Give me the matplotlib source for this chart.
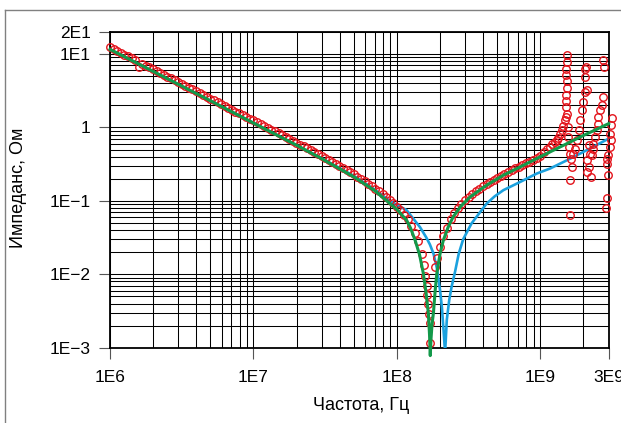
import matplotlib
matplotlib.use("Agg")
import matplotlib.pyplot as plt
from matplotlib.ticker import FixedLocator, FixedFormatter, LogLocator, NullFormatter
from matplotlib.lines import Line2D

plt.rcParams['font.family'] = ['Liberation Sans', 'DejaVu Sans']

# ---------------- data ----------------
x_ticks = [1e6, 1e7, 1e8, 1e9, 3e9]
x_tick_labels = ["1E6", "1E7", "1E8", "1E9", "3E9"]
y_ticks = [1e-3, 1e-2, 1e-1, 1, 1e1, 2e1]
y_tick_labels = ["1E\u22123", "1E\u22122", "1E\u22121", "1", "1E1", "2E1"]

x_label = "Частота, Гц"
y_label = "Импеданс, Ом"

# green model curve
green_freq = [1e6, 2e6, 5e6, 1e7, 2e7, 3e7, 5e7, 7e7, 1e8, 1.17e8, 1.25e8, 1.34e8,
              1.44e8, 1.53e8, 1.60e8, 1.66e8, 1.69e8, 1.71e8, 1.73e8, 1.76e8, 1.80e8,
              1.85e8, 1.90e8, 2.00e8, 2.11e8, 2.28e8, 2.47e8, 2.8e8, 3.24e8, 4.23e8,
              5.53e8, 7.23e8, 9.46e8, 1.17e9, 1.5e9, 1.9e9, 2.4e9, 3.0e9]
green_imp = [11.6, 5.81, 2.32, 1.15, 0.573, 0.375, 0.213, 0.138, 0.0766, 0.0546, 0.042,
             0.0292, 0.0185, 0.0103, 0.0055, 0.0029, 0.0015, 0.00078, 0.0013, 0.0021,
             0.0030, 0.0060, 0.0103, 0.019, 0.0292, 0.044, 0.0606, 0.085, 0.113, 0.164,
             0.224, 0.290, 0.378, 0.465, 0.59, 0.743, 0.92, 1.13]

# blue model curve
blue_freq = [1e6, 1e7, 3e7, 5e7, 7e7, 9e7, 1.17e8, 1.3e8, 1.45e8, 1.6e8, 1.7e8, 1.8e8,
             1.9e8, 2.0e8, 2.06e8, 2.11e8, 2.15e8, 2.17e8, 2.19e8, 2.23e8, 2.32e8,
             2.41e8, 2.55e8, 2.70e8, 2.90e8, 3.31e8, 3.80e8, 4.23e8, 4.8e8, 5.53e8,
             7.23e8, 9.46e8, 1.17e9, 1.5e9, 1.9e9, 2.4e9, 3.0e9]
blue_imp = [11.6, 1.16, 0.380, 0.220, 0.143, 0.099, 0.0748, 0.0575, 0.0439, 0.032,
            0.0255, 0.0192, 0.0122, 0.0061, 0.0036, 0.0019, 0.0011, 0.0009, 0.0012,
            0.0024, 0.0045, 0.0068, 0.0110, 0.0190, 0.030, 0.049, 0.070, 0.092, 0.115,
            0.140, 0.181, 0.236, 0.276, 0.35, 0.442, 0.56, 0.706]

# red measured points: mantissas of the sweep within one decade
red_mant = [1.000, 1.059, 1.122, 1.189, 1.259, 1.334, 1.413, 1.496, 1.585, 1.679,
            1.778, 1.884, 1.995, 2.113, 2.239, 2.371, 2.512, 2.661, 2.818, 2.985,
            3.162, 3.350, 3.548, 3.758, 3.981, 4.217, 4.467, 4.732, 5.012, 5.309,
            5.623, 5.957, 6.310, 6.683, 7.079, 7.499, 7.943, 8.414, 8.913, 9.441]
red_imp_1mhz = [12.4, 11.7, 11.05, 10.43, 9.85, 9.30, 8.78, 8.29, 6.6, 7.39,
                6.97, 6.58, 6.22, 5.87, 5.54, 5.23, 4.94, 4.66, 4.40, 4.15,
                3.92, 3.70, 3.49, 3.30, 3.11, 2.94, 2.78, 2.62, 2.47, 2.34,
                2.21, 2.08, 1.97, 1.86, 1.75, 1.65, 1.56, 1.47, 1.39, 1.31]
red_imp_10mhz = [1.25, 1.18, 1.11, 1.05, 0.991, 0.935, 0.882, 0.832, 0.785, 0.740,
                 0.698, 0.658, 0.621, 0.585, 0.551, 0.519, 0.489, 0.460, 0.433, 0.408,
                 0.383, 0.360, 0.338, 0.318, 0.298, 0.280, 0.262, 0.245, 0.229, 0.214,
                 0.199, 0.185, 0.172, 0.159, 0.147, 0.135, 0.124, 0.113, 0.103, 0.0926]
red_hf_freq = [1.000e8, 1.059e8, 1.122e8, 1.189e8, 1.259e8, 1.334e8, 1.413e8, 1.496e8,
               1.54e8, 1.58e8, 1.61e8, 1.63e8, 1.65e8, 1.67e8, 1.69e8, 1.70e8, 1.845e8,
               1.90e8, 2.00e8, 2.11e8, 2.24e8, 2.37e8, 2.51e8, 2.66e8, 2.82e8, 2.99e8,
               3.16e8, 3.35e8, 3.55e8, 3.76e8, 3.98e8, 4.22e8, 4.47e8, 4.73e8, 5.01e8,
               5.31e8, 5.62e8, 5.96e8, 6.31e8, 6.68e8, 7.08e8, 7.50e8, 7.94e8, 8.41e8,
               8.91e8, 9.44e8, 1.00e9, 1.06e9, 1.11e9, 1.16e9, 1.21e9, 1.26e9, 1.30e9,
               1.34e9, 1.38e9, 1.41e9, 1.45e9, 1.49e9, 1.51e9, 1.53e9]
red_hf_imp = [0.083, 0.074, 0.065, 0.056, 0.046, 0.037, 0.028, 0.019,
              0.0135, 0.0095, 0.0070, 0.0052, 0.0040, 0.0029, 0.0022, 0.00115, 0.0126,
              0.0165, 0.0235, 0.0330, 0.043, 0.056, 0.068, 0.080, 0.091, 0.103,
              0.114, 0.125, 0.136, 0.147, 0.158, 0.170, 0.182, 0.194, 0.207,
              0.220, 0.234, 0.248, 0.262, 0.277, 0.293, 0.309, 0.326, 0.344,
              0.363, 0.383, 0.41, 0.46, 0.515, 0.55, 0.59, 0.63, 0.668,
              0.73, 0.82, 0.914, 1.05, 1.25, 1.40, 1.54]
# scattered high-frequency measured points (resonances of the fixture)
red_scatter_freq = [1.50e9, 1.51e9, 1.50e9, 1.53e9, 1.53e9, 1.52e9, 1.51e9, 1.53e9, 1.53e9,
                    1.55e9, 1.57e9, 1.58e9, 1.60e9, 1.63e9, 1.66e9, 1.60e9, 1.60e9,
                    1.685e9, 1.75e9, 1.80e9, 1.85e9, 1.90e9, 1.95e9, 2.00e9, 2.05e9, 2.11e9,
                    2.05e9, 2.05e9, 2.09e9,
                    2.17e9, 2.23e9, 2.11e9, 2.17e9, 2.13e9, 2.25e9,
                    2.29e9, 2.32e9, 2.35e9, 2.41e9, 2.48e9, 2.54e9, 2.54e9, 2.61e9, 2.68e9,
                    2.73e9, 2.79e9, 2.73e9,
                    2.88e9, 2.91e9, 2.99e9, 2.91e9, 2.91e9, 2.99e9, 3.04e9, 3.10e9, 3.07e9,
                    3.10e9, 3.15e9]
red_scatter_imp = [1.90, 2.30, 2.74, 3.4, 4.25, 5.2, 6.31, 7.8, 9.59,
                   1.02, 0.75, 0.55, 0.441, 0.376, 0.29, 0.191, 0.0638,
                   0.441, 0.515, 0.668, 0.914, 1.25, 1.71, 2.22, 3.04, 3.27,
                   4.86, 6.31, 6.66,
                   0.572, 0.441, 0.357, 0.290, 0.248, 0.212,
                   0.418, 0.515, 0.602, 0.743, 0.914, 1.13, 1.39, 1.71, 2.00,
                   2.60, 6.66, 8.37,
                   0.081, 0.108, 0.224, 0.322, 0.376, 0.418, 0.543, 0.668, 0.824,
                   1.07, 1.36]

red_freq = ([m * 1e6 for m in red_mant] + [m * 1e7 for m in red_mant]
            + red_hf_freq + red_scatter_freq)
red_imp = red_imp_1mhz + red_imp_10mhz + red_hf_imp + red_scatter_imp

# ---------------- figure ----------------
W, H = 621, 423
fig = plt.figure(figsize=(W / 100, H / 100), dpi=100)
ax_l, ax_r, ax_t, ax_b = 110, 608.7, 32, 347.7
ax = fig.add_axes([ax_l / W, 1 - ax_b / H, (ax_r - ax_l) / W, (ax_b - ax_t) / H])
ax.set_xscale('log')
ax.set_yscale('log')
ax.set_xlim(1e6, 3e9)
ax.set_ylim(1e-3, 2e1)

ax.xaxis.set_major_locator(FixedLocator(x_ticks))
ax.xaxis.set_major_formatter(FixedFormatter(x_tick_labels))
ax.yaxis.set_major_locator(FixedLocator(y_ticks))
ax.yaxis.set_major_formatter(FixedFormatter(y_tick_labels))
ax.xaxis.set_minor_locator(LogLocator(base=10, subs=range(2, 10), numticks=50))
ax.yaxis.set_minor_locator(LogLocator(base=10, subs=range(2, 10), numticks=50))
ax.xaxis.set_minor_formatter(NullFormatter())
ax.yaxis.set_minor_formatter(NullFormatter())

ax.set_axisbelow(True)
ax.grid(True, which='both', color='black', linewidth=0.75)
ax.tick_params(which='major', direction='out', length=8, width=0.8,
               color='#555555', labelsize=12.5, labelcolor='black')
ax.tick_params(axis='x', which='major', pad=8)
ax.tick_params(axis='y', which='major', pad=6)
ax.tick_params(which='minor', length=0)
for s in ax.spines.values():
    s.set_linewidth(1.3)
    s.set_color('black')

ax.plot(blue_freq, blue_imp, color='#1ba1de', linewidth=1.9, zorder=3)
ax.plot(red_freq, red_imp, linestyle='none', marker='o', markersize=5.4,
        markerfacecolor='none', markeredgecolor='#e3131b', markeredgewidth=1.0,
        clip_on=False, zorder=4)
ax.plot(green_freq, green_imp, color='#13994a', linewidth=2.2, clip_on=False, zorder=5)

fig.text(361 / W, 1 - 410 / H, x_label, ha='center', va='baseline', fontsize=13)
fig.text(19 / W, 1 - 188 / H, y_label, ha='center', va='center', rotation=90, fontsize=13)

# outer frame
fig.add_artist(Line2D([5 / W, 5 / W], [0, 1 - 10 / H], transform=fig.transFigure,
                      color='#808080', linewidth=1))
fig.add_artist(Line2D([5 / W, 1], [1 - 10 / H, 1 - 10 / H], transform=fig.transFigure,
                      color='#808080', linewidth=1))

fig.savefig('out.png', dpi=100)
